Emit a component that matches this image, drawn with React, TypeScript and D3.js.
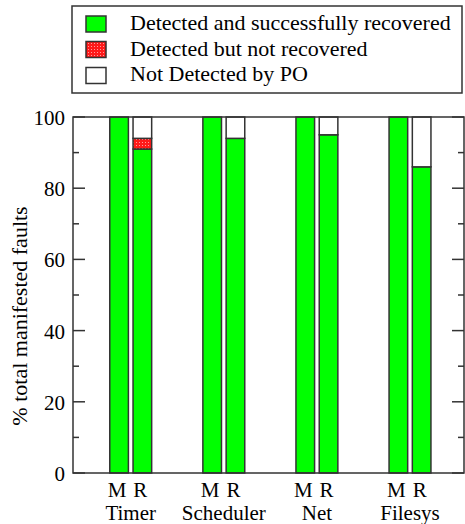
import React from 'react';
import * as d3 from 'd3';

// categories and the two variants shown per category
const categories = ['Timer', 'Scheduler', 'Net', 'Filesys'];
const variants = ['M', 'R'];

// % of manifested faults, per category, for M and R
const recoveredM = [100, 100, 100, 100];
const recoveredR = [91, 94, 95, 86];
const notRecoveredM = [0, 0, 0, 0];
const notRecoveredR = [3, 0, 0, 0];

const yMajorTicks = [0, 20, 40, 60, 80, 100];
const yMinorTicks = [10, 30, 50, 70, 90];

const legendLabels = [
  'Detected and successfully recovered',
  'Detected but not recovered',
  'Not Detected by PO',
];

const FONT = '"Liberation Serif"';
const STROKE = '#333';

export default function App() {
  const left = 73;
  const right = 464;
  const top = 117;
  const bottom = 473;

  const x = d3.scaleLinear().domain([0.38, 4.58]).range([left, right]);
  const y = d3.scaleLinear().domain([0, 100]).range([bottom, top]);
  const colors = ['#00ff00', 'url(#dots)', '#ffffff'];
  const barW = 0.2;

  // stacked rows: recovered, not recovered, not detected
  const rows = categories.flatMap((c, i) =>
    variants.map((v, j) => {
      const rec = j === 0 ? recoveredM[i] : recoveredR[i];
      const nrec = j === 0 ? notRecoveredM[i] : notRecoveredR[i];
      return { key: c + v, pos: i + 1 + (j === 0 ? -0.125 : 0.125), vals: [rec, nrec, 100 - rec - nrec], label: v };
    })
  );

  const txt = { fontFamily: FONT, fontSize: '21px' };

  return (
    <svg width={465} height={524} style={{ display: 'block', position: 'absolute', left: 0, top: 0 }}>
      <defs>
        <pattern id="dots" width={3} height={3} patternUnits="userSpaceOnUse">
          <rect width={3} height={3} fill="#ff1a1a" />
          <rect x={1} y={1} width={1} height={1} fill="#ff9c9c" />
        </pattern>
      </defs>

      {rows.map(r => {
        let acc = 0;
        return (
          <g key={r.key}>
            {r.vals.map((val, k) => {
              const y0 = acc;
              acc += val;
              if (val <= 0) return null;
              return (
                <rect
                  key={k}
                  x={x(r.pos - barW / 2)}
                  y={y(y0 + val)}
                  width={x(barW) - x(0)}
                  height={y(y0) - y(y0 + val)}
                  fill={colors[k]}
                  stroke={STROKE}
                  strokeWidth={1.5}
                />
              );
            })}
          </g>
        );
      })}

      {/* frame */}
      <rect x={left} y={top} width={right - left} height={bottom - top} fill="none" stroke={STROKE} strokeWidth={1.5} />

      {/* y ticks, inward on both sides */}
      {yMajorTicks.map(t => (
        <g key={'M' + t}>
          <line x1={left} x2={left + 12} y1={y(t)} y2={y(t)} stroke={STROKE} strokeWidth={1.5} />
          <line x1={right - 12} x2={right} y1={y(t)} y2={y(t)} stroke={STROKE} strokeWidth={1.5} />
          <text x={left - 8} y={y(t) + 8} textAnchor="end" style={txt}>{t}</text>
        </g>
      ))}
      {yMinorTicks.map(t => (
        <g key={'m' + t}>
          <line x1={left} x2={left + 6} y1={y(t)} y2={y(t)} stroke={STROKE} strokeWidth={1.5} />
          <line x1={right - 6} x2={right} y1={y(t)} y2={y(t)} stroke={STROKE} strokeWidth={1.5} />
        </g>
      ))}

      {/* x labels */}
      {rows.map(r => (
        <text key={'l' + r.key} x={x(r.pos) - 2} y={497} textAnchor="middle" style={txt}>{r.label}</text>
      ))}
      {categories.map((c, i) => (
        <text key={c} x={x(i + 1)} y={520} textAnchor="middle" style={txt}>{c}</text>
      ))}

      {/* y title */}
      <text transform={`translate(27,${316}) rotate(-90)`} textAnchor="middle" style={{ fontFamily: FONT, fontSize: '22px' }}>
        % total manifested faults
      </text>

      {/* legend */}
      <rect x={72} y={6} width={390} height={87} fill="#fff" stroke={STROKE} strokeWidth={1.5} />
      {legendLabels.map((lab, i) => (
        <g key={lab}>
          <rect x={86} y={[16, 41.5, 67.5][i]} width={20} height={16} fill={colors[i]} stroke={STROKE} strokeWidth={1.5} />
          <text x={130} y={[30, 56, 81][i]} style={{ fontFamily: FONT, fontSize: '22px' }}>{lab}</text>
        </g>
      ))}
    </svg>
  );
}
